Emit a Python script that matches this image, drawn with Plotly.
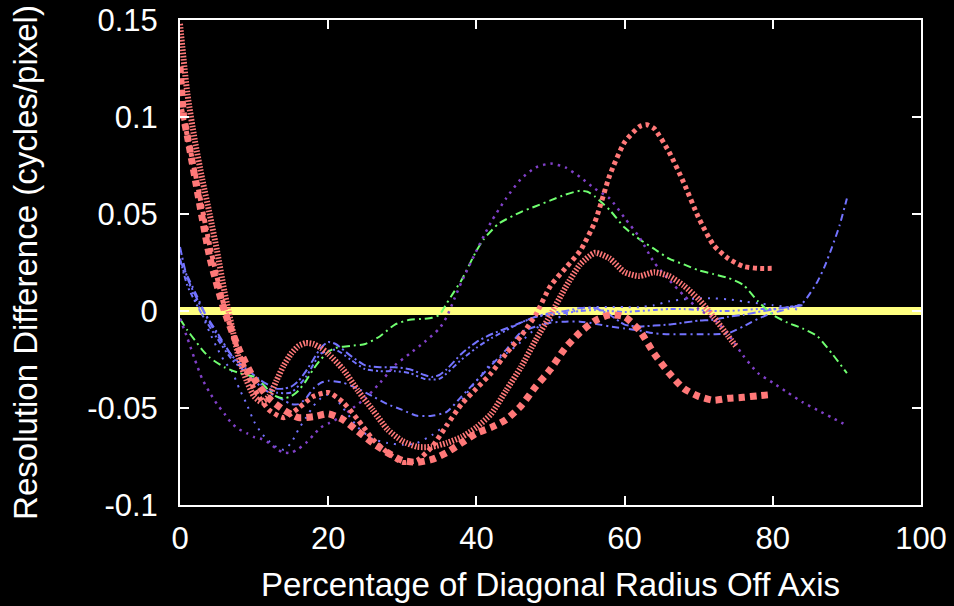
import plotly.graph_objects as go

# ---------------- data ----------------
zero_x = [0, 100]
zero_y = [0, 0]

redA_x = [0, 0.5, 1, 2, 4, 6, 8, 10, 12, 14, 16, 18, 20, 22, 24, 26, 28, 30, 32, 34, 36, 38, 40,
          42, 44, 46, 48, 50, 52, 54, 56, 58, 60, 62, 64, 66, 68, 70, 72, 74, 76, 78, 80]
redA_y = [0.126, 0.100, 0.090, 0.069, 0.028, 0.000, -0.020, -0.035, -0.045, -0.051, -0.055, -0.0545,
          -0.053, -0.056, -0.062, -0.068, -0.073, -0.077, -0.078, -0.0765, -0.073, -0.068, -0.063,
          -0.060, -0.056, -0.049, -0.039, -0.030, -0.019, -0.011, -0.005, -0.002, -0.003, -0.010,
          -0.022, -0.032, -0.040, -0.044, -0.046, -0.045, -0.0445, -0.0437, -0.043]

redB_x = [0, 1, 2, 4, 6, 8, 10, 12, 14, 16, 18, 20, 22, 24, 26, 28, 30, 32, 34, 36, 38, 40, 42,
          44, 46, 48, 50, 52, 54, 56, 58, 60, 62, 63, 64, 66, 68, 70, 72, 74, 76, 78, 80]
redB_y = [0.108, 0.090, 0.072, 0.034, 0.002, -0.022, -0.040, -0.051, -0.055, -0.050, -0.044, -0.042,
          -0.047, -0.056, -0.066, -0.073, -0.078, -0.077, -0.070, -0.059, -0.048, -0.040, -0.032,
          -0.022, -0.013, -0.002, 0.013, 0.022, 0.031, 0.046, 0.070, 0.087, 0.095, 0.096, 0.094,
          0.082, 0.066, 0.048, 0.034, 0.027, 0.023, 0.022, 0.022]

redC_x = [0, 1, 2, 3, 4, 5, 6, 7, 8, 9, 10, 11, 12, 13, 14, 15, 16, 17, 18, 19, 20, 22, 24, 26,
          28, 30, 32, 34, 36, 38, 40, 42, 44, 46, 48, 50, 52, 54, 56, 58, 60, 62, 64, 66, 68, 70,
          72, 74, 75]
redC_y = [0.148, 0.112, 0.088, 0.068, 0.050, 0.031, 0.010, -0.008, -0.025, -0.036, -0.044, -0.047,
          -0.044, -0.036, -0.028, -0.022, -0.018, -0.0165, -0.017, -0.019, -0.022, -0.030, -0.041,
          -0.051, -0.061, -0.067, -0.070, -0.070, -0.068, -0.065, -0.060, -0.053, -0.041, -0.029,
          -0.015, -0.002, 0.012, 0.024, 0.030, 0.027, 0.020, 0.018, 0.020, 0.018, 0.013, 0.006,
          -0.003, -0.013, -0.018]

blueUp_x = [0, 1, 3, 5, 7, 9, 11, 13, 14, 15, 16, 17, 18, 19, 20, 21, 23, 25, 27, 29, 31, 33, 34,
            35, 36, 38, 40, 42, 44, 46, 48, 50, 52, 54, 56, 58, 60, 62, 64, 66, 68, 70, 72, 74,
            76, 78, 80, 82, 84]
blueUp_y = [0.033, 0.017, 0.001, -0.011, -0.023, -0.030, -0.036, -0.040, -0.040, -0.039, -0.036,
            -0.031, -0.025, -0.019, -0.016, -0.017, -0.023, -0.028, -0.029, -0.029, -0.030, -0.033,
            -0.034, -0.033, -0.030, -0.022, -0.016, -0.012, -0.009, -0.006, -0.003, -0.001, 0.000,
            0.0015, 0.0015, -0.002, -0.007, -0.008, -0.0075, -0.007, -0.006, -0.005, -0.0045,
            -0.003, -0.002, -0.0005, 0.0007, 0.002, 0.003]

blueMid_x = [0, 2, 4, 6, 8, 10, 12, 14, 15, 16, 17, 18, 19, 20, 22, 24, 26, 28, 30, 32, 34, 36, 38,
             40, 42, 44, 46, 48, 50, 52, 54, 56, 58, 60, 62, 64, 66, 68, 70, 72, 74, 76, 78, 80,
             82, 84, 86, 87, 88, 89, 90]
blueMid_y = [0.026, 0.010, -0.006, -0.018, -0.028, -0.036, -0.042, -0.046, -0.048, -0.048, -0.045,
             -0.040, -0.037, -0.036, -0.037, -0.040, -0.044, -0.048, -0.051, -0.054, -0.054, -0.052,
             -0.044, -0.036, -0.028, -0.020, -0.011, -0.008, -0.006, -0.0055, -0.0055, -0.0065,
             -0.008, -0.009, -0.010, -0.0115, -0.012, -0.012, -0.012, -0.012, -0.0115, -0.008,
             -0.004, -0.001, 0.001, 0.004, 0.015, 0.023, 0.033, 0.044, 0.058]

blueLow_x = [0, 1, 2, 3, 4, 5, 6, 7, 8, 9, 10, 11, 12, 13, 14, 15, 16, 17, 18, 19, 20, 21, 22, 23,
             24, 26, 28, 30, 32, 34, 36, 38, 40, 42, 44, 46, 48, 50, 52, 54, 56, 58, 60, 62, 64,
             66, 68, 70, 72, 74, 76, 78, 80, 82, 84]
blueLow_y = [0.025, 0.016, 0.007, -0.002, -0.011, -0.019, -0.026, -0.031, -0.040, -0.048, -0.057,
             -0.063, -0.067, -0.070, -0.0715, -0.068, -0.061, -0.055, -0.049, -0.045, -0.043, -0.045,
             -0.050, -0.055, -0.060, -0.066, -0.068, -0.069, -0.068, -0.064, -0.058, -0.046, -0.036,
             -0.027, -0.022, -0.016, -0.009, -0.005, -0.002, 0.001, 0.002, 0.002, 0.002, 0.002,
             0.003, 0.005, 0.006, 0.0065, 0.0065, 0.006, 0.005, 0.004, 0.003, 0.002, 0.000]

blueFlat_x = [0, 1, 3, 5, 7, 9, 11, 13, 15, 17, 19, 21, 23, 25, 27, 29, 31, 33, 35, 38, 40, 42,
              44, 46, 48, 50, 52, 54, 56, 58, 60, 62, 64, 66, 68, 70, 72, 74, 76, 78, 80, 82, 84]
blueFlat_y = [0.027, 0.013, -0.002, -0.014, -0.025, -0.032, -0.038, -0.042, -0.042, -0.034,
              -0.022, -0.020, -0.025, -0.030, -0.031, -0.031, -0.032, -0.035, -0.035, -0.025,
              -0.019, -0.014, -0.010, -0.006, -0.003, -0.002, -0.001, 0.000, 0.0005, 0.000,
              -0.0005, 0.000, 0.0005, 0.001, 0.001, 0.0005, 0.000, 0.000, 0.0005, 0.001, 0.001,
              0.002, 0.003]

green_x = [0, 1, 2, 3, 4, 6, 8, 10, 11, 12, 13, 14, 15, 16, 17, 18, 19, 20, 21, 23, 25, 27, 29,
           31, 33, 34, 35, 36, 37, 38, 40, 41, 43, 46, 48, 50, 52, 54, 55, 56, 58, 60, 62, 64, 66,
           68, 70, 72, 74, 76, 78, 80, 82, 84, 86, 88, 90]
green_y = [-0.004, -0.010, -0.015, -0.020, -0.024, -0.029, -0.032, -0.034, -0.037, -0.041, -0.044,
           -0.045, -0.044, -0.041, -0.036, -0.030, -0.025, -0.021, -0.019, -0.018, -0.017, -0.013,
           -0.007, -0.0045, -0.004, -0.0035, -0.002, 0.004, 0.010, 0.016, 0.031, 0.037, 0.045,
           0.051, 0.054, 0.057, 0.060, 0.062, 0.0615, 0.059, 0.052, 0.043, 0.037, 0.032, 0.027,
           0.024, 0.021, 0.019, 0.017, 0.0135, 0.005, -0.002, -0.006, -0.009, -0.013, -0.022,
           -0.032]

purple_x = [0, 1, 2, 3, 4, 5, 6, 7, 8, 9, 10, 11, 12, 13, 14, 15, 16, 17, 18, 19, 20, 22, 23, 25,
            27, 29, 31, 33, 35, 36, 37, 38, 40, 42, 44, 46, 48, 50, 52, 54, 56, 58, 60, 62, 64, 66,
            68, 70, 72, 74, 76, 78, 80, 82, 84, 86, 88, 90]
purple_y = [-0.004, -0.014, -0.025, -0.035, -0.042, -0.048, -0.053, -0.058, -0.061, -0.063, -0.065,
            -0.066, -0.068, -0.071, -0.073, -0.073, -0.071, -0.068, -0.064, -0.060, -0.058, -0.054,
            -0.051, -0.045, -0.037, -0.028, -0.022, -0.016, -0.009, -0.003, 0.006, 0.015, 0.031,
            0.046, 0.058, 0.068, 0.074, 0.076, 0.074, 0.069, 0.063, 0.058, 0.048, 0.038, 0.025,
            0.016, 0.008, 0.001, -0.004, -0.012, -0.023, -0.032, -0.037, -0.042, -0.047, -0.051,
            -0.055, -0.059]

x_ticks = [0, 20, 40, 60, 80, 100]
y_ticks = [-0.1, -0.05, 0, 0.05, 0.1, 0.15]
y_tick_text = ["-0.1", "-0.05", "0", "0.05", "0.1", "0.15"]

x_title = "Percentage of Diagonal Radius Off Axis"
y_title = "Resolution Difference (cycles/pixel)"

# ---------------- styles ----------------
RED = "#ff7878"
BLUE = "#7373ff"
GREEN = "#70ff70"
PURPLE = "#8040c8"
YELLOW = "#ffff80"
FONT = "Liberation Sans, Arial, Helvetica, sans-serif"

series = [
    (zero_x, zero_y, YELLOW, 8, "solid"),
    (blueUp_x, blueUp_y, BLUE, 2, "8px,3px,2px,3px"),
    (blueFlat_x, blueFlat_y, BLUE, 2, "5px,3px,2px,3px,2px,3px"),
    (blueMid_x, blueMid_y, BLUE, 2, "7px,4px,2px,4px"),
    (blueLow_x, blueLow_y, BLUE, 2, "2px,6px"),
    (green_x, green_y, GREEN, 2, "8px,4px,2px,4px"),
    (purple_x, purple_y, PURPLE, 2.5, "2.5px,5px"),
    (redC_x, redC_y, RED, 6, "1.6px,1.6px"),
    (redB_x, redB_y, RED, 5, "4px,3.5px"),
    (redA_x, redA_y, RED, 7, "6.5px,5px"),
]

fig = go.Figure()
for xs, ys, col, w, dash in series:
    fig.add_trace(go.Scatter(
        x=xs, y=ys, mode="lines",
        line=dict(color=col, width=w, dash=dash, shape="spline", smoothing=0.6),
        showlegend=False, hoverinfo="skip",
    ))

axis_common = dict(
    showgrid=False, zeroline=False, showline=True, linecolor="white", linewidth=2,
    mirror="ticks", ticks="inside", ticklen=9, tickwidth=2, tickcolor="white",
    tickfont=dict(family=FONT, size=31, color="white"), automargin=False,
)
title_font = dict(family=FONT, size=33, color="white")

fig.update_layout(
    width=954, height=606,
    paper_bgcolor="black", plot_bgcolor="black",
    margin=dict(l=180, r=33, t=20, b=101, autoexpand=False),
    xaxis=dict(range=[0, 100], tickvals=x_ticks, ticklabelstandoff=5,
               title=dict(text=x_title, font=title_font, standoff=18),
               **axis_common),
    yaxis=dict(range=[-0.1, 0.15], tickvals=y_ticks, ticktext=y_tick_text, ticklabelstandoff=14,
               title=dict(text=y_title, font=title_font, standoff=40),
               **axis_common),
)

fig.write_html("out.html")
